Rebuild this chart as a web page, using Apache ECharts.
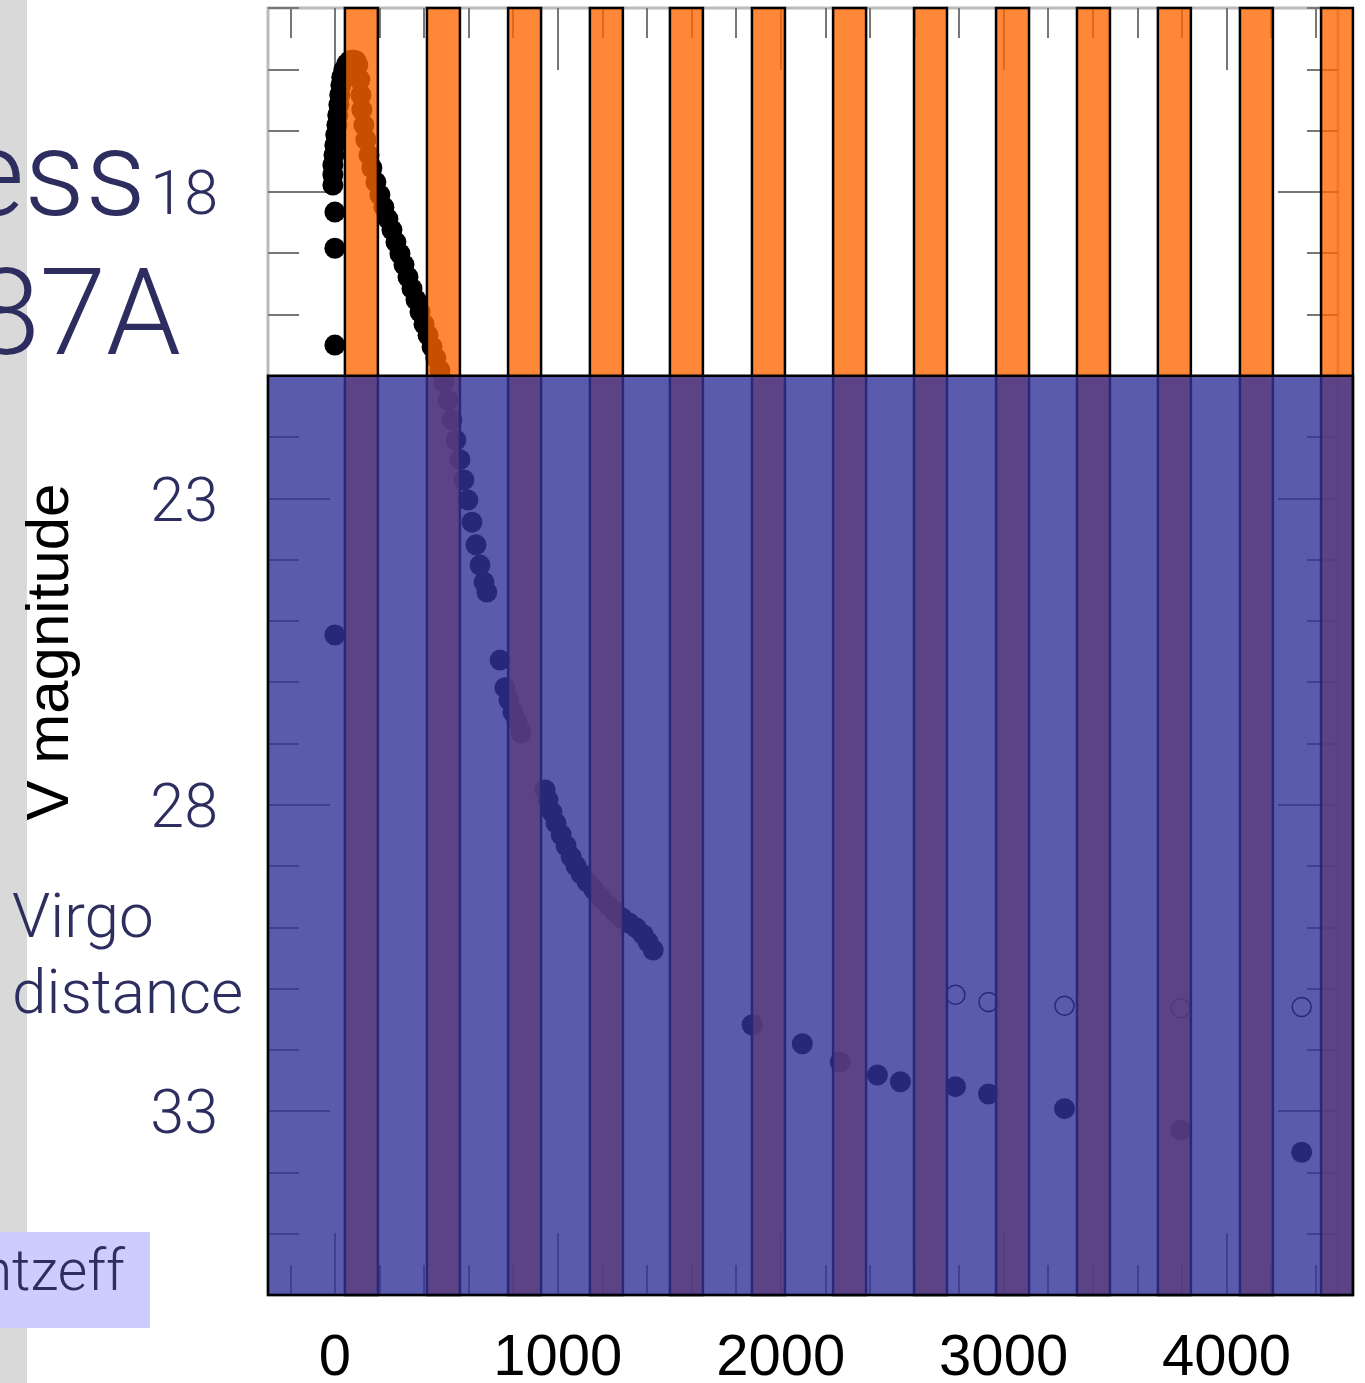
<!DOCTYPE html>
<html><head><meta charset="utf-8">
<script src="https://cdn.jsdelivr.net/npm/echarts@6/dist/echarts.min.js"></script>
<style>html,body{margin:0;padding:0;background:#fff}#c{width:1365px;height:1383px}</style>
</head><body><div id="c"></div>
<script>
// ---- data (days since explosion, V magnitude) ----
const earlyDays = [0,0,0,0,-9,-9,-9,-4,0,4,9,13,18,22,27,31,40,54,67,81,94,103,
  112,117,121,130,139,153,166,184,202,220,238,256,274,292,310,328,346,364,382,400,418,436,453,471,489,
  507,525,543,561,579,597,615,633,651,669,682];
const earlyMags = [18.33,18.92,20.50,25.23,17.89,17.72,17.56,17.40,17.24,17.07,16.91,16.75,16.58,16.42,16.26,16.13,16.01,15.91,15.86,15.85,15.86,15.93,
  16.17,16.42,16.66,16.91,17.15,17.40,17.61,17.84,18.05,18.25,18.44,18.62,18.82,19.01,19.19,19.39,19.58,19.76,19.96,20.16,20.34,20.53,20.71,20.91,21.10,
  21.40,21.72,22.05,22.37,22.70,23.03,23.39,23.76,24.09,24.37,24.53];
const midDays = [741,763,781,799,817,835,943,956,974,992,1015,1037,1060,1082,1105,1132,1163,1194,1226,1257,1289,1320,1352,1383,1405,1428];
const midMags = [25.64,26.09,26.29,26.49,26.65,26.83,27.76,27.92,28.12,28.30,28.49,28.67,28.85,29.00,29.13,29.26,29.39,29.52,29.64,29.75,29.85,29.93,30.01,30.12,30.24,30.37];
const lateDays = [1872,2097,2267,2434,2537,2784,2932,3273,3794,4337];
const lateMags = [31.59,31.90,32.20,32.41,32.52,32.60,32.72,32.96,33.31,33.67];
const openDays = [2784,2932,3273,3794,4337];
const openMags = [31.10,31.22,31.28,31.32,31.30];
// orange stripes (day ranges)
const barStart = [45,413,777,1144,1503,1871,2235,2598,2966,3329,3692,4060,4424];
const barEnd   = [193,561,925,1292,1651,2019,2383,2746,3114,3477,3840,4208,4567];
// shaded "Virgo distance" band (magnitudes) and its day span
const bandMag = [21, 36];
const bandDay = [-300, 4567];
// ticks
const xMinorTicks = [-200,0,200,400,600,800,1000,1200,1400,1600,1800,2000,2200,2400,2600,2800,3000,3200,3400,3600,3800,4000,4200,4400];
const xMajorTicks = [0,1000,2000,3000,4000];
const yMajorTicks = [18,23,28,33];
const yRange = [15, 36];
const xRange = [-300, 4500];

const navy = '#2d2d5f';
const filled = [];
earlyDays.forEach((d,i)=>filled.push([d, earlyMags[i]]));
midDays.forEach((d,i)=>filled.push([d, midMags[i]]));
lateDays.forEach((d,i)=>filled.push([d, lateMags[i]]));
const open = openDays.map((d,i)=>[d, openMags[i]]);
const bars = barStart.map((s,i)=>[s, barEnd[i]]);

const tickStyle = {color:'#777', width:2};
function xAx(pos, ticks, len, labels){
  return {type:'value', position:pos, min:xRange[0], max:xRange[1],
    axisLine:{show:false, onZero:false}, splitLine:{show:false},
    axisTick:{show:true, inside:true, length:len, customValues:ticks, lineStyle:tickStyle},
    axisLabel: labels ? {show:true, customValues:labels, fontSize:58, color:'#000', fontFamily:'Liberation Sans', margin:35, formatter:v=>String(v)} : {show:false}};
}
function yAx(pos, ticks, len, labels){
  const a = {type:'value', position:pos, inverse:true, min:yRange[0], max:yRange[1],
    axisLine:{show:false, onZero:false}, splitLine:{show:false},
    axisTick:{show:true, inside:true, length:len, lineStyle:tickStyle},
    axisLabel: labels ? {show:true, customValues:labels, fontSize:61, color:navy, fontFamily:'Roboto', fontWeight:300, margin:50, verticalAlign:'top', lineHeight:14} : {show:false}};
  if (ticks) a.axisTick.customValues = ticks; else a.interval = 1;
  return a;
}

const chart = echarts.init(document.getElementById('c'), null, {renderer:'canvas'});
chart.setOption({
  animation:false,
  backgroundColor:'#fff',
  grid:{left:268, top:8, width:1070, height:1287, show:true, borderColor:'#bbb', borderWidth:3, backgroundColor:'transparent', containLabel:false, outerBoundsMode:'none'},
  xAxis:[xAx('bottom', xMinorTicks, 30, xMajorTicks), xAx('bottom', xMajorTicks, 62, null),
         xAx('top', xMinorTicks, 30, null), xAx('top', xMajorTicks, 62, null)],
  yAxis:[yAx('left', null, 31, null), yAx('left', yMajorTicks, 62, yMajorTicks),
         yAx('right', null, 31, null), yAx('right', yMajorTicks, 60, null)],
  series:[
    {type:'scatter', data:filled, symbol:'circle', symbolSize:21, itemStyle:{color:'#000', opacity:1}, z:2, silent:true},
    {type:'scatter', data:open, symbol:'circle', symbolSize:19, itemStyle:{color:'rgba(0,0,0,0)', borderColor:'#000', borderWidth:1.5, opacity:1}, z:2, silent:true},
    {type:'custom', data:bars, encode:{x:[0,1]}, z:3, clip:false, silent:true,
      renderItem:(params, api)=>{
        const p0 = api.coord([api.value(0), yRange[0]]);
        const p1 = api.coord([api.value(1), yRange[1]]);
        return {type:'rect', shape:{x:p0[0], y:p0[1], width:p1[0]-p0[0], height:p1[1]-p0[1]},
          style:{fill:'rgba(255,102,0,0.78)', stroke:'#000', lineWidth:2.5}};
      }},
    {type:'custom', data:[[bandDay[0], bandDay[1]]], encode:{x:[0,1]}, z:4, clip:false, silent:true,
      renderItem:(params, api)=>{
        const p0 = api.coord([api.value(0), bandMag[0]]);
        const p1 = api.coord([api.value(1), bandMag[1]]);
        return {type:'rect', shape:{x:p0[0], y:p0[1], width:p1[0]-p0[0], height:p1[1]-p0[1]},
          style:{fill:'rgba(50,50,152,0.8)', stroke:'#000', lineWidth:2.5}};
      }}
  ],
  graphic:[
    {type:'rect', z:0, shape:{x:0,y:0,width:27,height:1383}, style:{fill:'#d9d9d9'}},
    {type:'rect', z:1, shape:{x:0,y:1232,width:150,height:96}, style:{fill:'#ccccff'}},
    {type:'text', z:10, x:146, y:185, style:{text:'Brightness', fontSize:120, fontFamily:'Roboto', fontWeight:300, fill:navy, align:'right', verticalAlign:'middle'}},
    {type:'text', z:10, x:181, y:324, style:{text:'SN 1987A', fontSize:120, fontFamily:'Roboto', fontWeight:300, fill:navy, align:'right', verticalAlign:'middle'}},
    {type:'text', z:10, x:51, y:652, rotation:Math.PI/2, style:{text:'V magnitude', fontSize:60, fontFamily:'Liberation Sans', fill:'#000', align:'center', verticalAlign:'middle'}},
    {type:'text', z:10, x:12, y:921, style:{text:'Virgo', fontSize:62, fontFamily:'Roboto', fontWeight:300, fill:navy, align:'left', verticalAlign:'middle'}},
    {type:'text', z:10, x:12, y:997, style:{text:'distance', fontSize:62, fontFamily:'Roboto', fontWeight:300, fill:navy, align:'left', verticalAlign:'middle'}},
    {type:'text', z:10, x:125, y:1276, style:{text:'Suntzeff', fontSize:57, fontFamily:'Roboto', fontWeight:300, fill:navy, align:'right', verticalAlign:'middle'}}
  ]
});
</script></body></html>
